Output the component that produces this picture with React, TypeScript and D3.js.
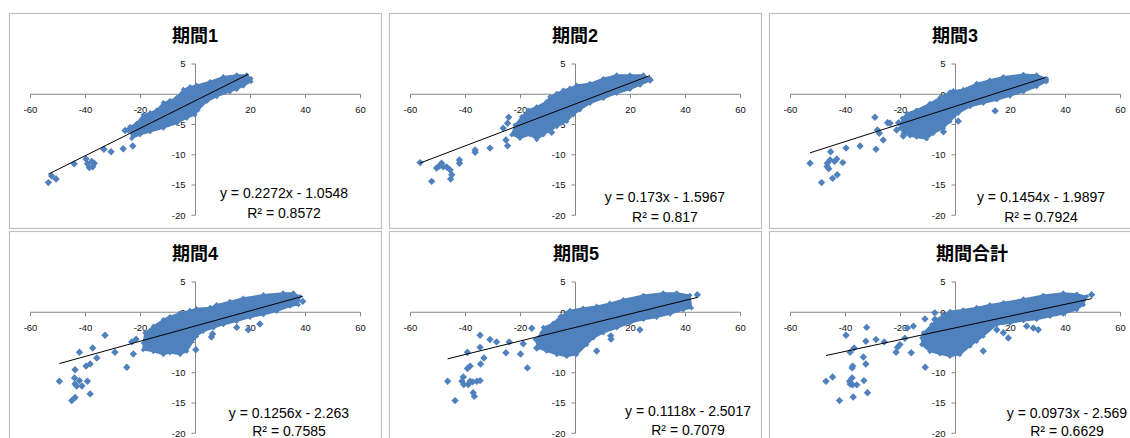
import React from 'react';
import * as d3 from 'd3';

type Pt = [number, number];

// Panel titles and fitted trend statistics
const titles = ['期間1', '期間2', '期間3', '期間4', '期間5', '期間合計'];
const slopes = [0.2272, 0.173, 0.1454, 0.1256, 0.1118, 0.0973];
const intercepts = [-1.0548, -1.5967, -1.9897, -2.263, -2.5017, -2.569];
const rSquared = ['0.8572', '0.817', '0.7924', '0.7585', '0.7079', '0.6629'];

const xTicks = [-60, -40, -20, 0, 20, 40, 60];
const yTicks = [5, 0, -5, -10, -15, -20];

// Outline of the dense cloud of observations in each period
const cloud1: Pt[] = [
  [-23.8, -5.35], [-21.4, -4.8], [-19, -3.4], [-16.5, -3.05], [-14.1, -2.6], [-11.7, -1.4], [-9.3, -1.05],
  [-6.8, -0.5], [-4.4, 0.8], [-2.0, 1.25], [0.4, 1.5], [5.3, 2.1], [10.1, 2.9], [15, 3.2], [18.6, 3.2], [20.2, 2.6],
  [20.2, 2.1], [17.4, 1.35], [15, 0.8], [12.5, 0.4], [7.7, -0.4], [4.1, -1.2], [1, -2.6], [-0.2, -3.4],
  [-3.2, -3.95], [-6.8, -4.8], [-11.7, -5.6], [-16.5, -6.2], [-20.2, -6.7], [-23.2, -7.3],
];
const cloud2: Pt[] = [
  [-22, -5.1], [-19.6, -3.7], [-17.2, -2.6], [-14.1, -2.05], [-10.5, -1.2], [-9.3, -0.4], [-6.8, 0.15],
  [-4.4, 0.7], [-2, 1.0], [0.4, 1.5], [5.3, 1.8], [10.1, 2.6], [15, 3.2], [19.8, 3.2], [24.7, 3.2], [27.1, 2.6],
  [27.1, 2.25], [23.5, 1.5], [19.8, 0.8], [15, 0.15], [10.1, -0.7], [5.3, -1.5], [1.6, -2.6], [-0.8, -3.4],
  [-3.2, -4.5], [-6.8, -5.35], [-11.7, -6.7], [-14.1, -7.5], [-16.5, -6.7], [-20.2, -7.3], [-23.2, -6.7],
];
const cloud3: Pt[] = [
  [-19.4, -4.0], [-17.7, -3.15], [-14.1, -2.6], [-9.3, -1.5], [-5.6, -0.5], [-2, 0.4], [-0.8, 0.6], [2.8, 0.8],
  [7.7, 1.8], [12.5, 2.35], [17.4, 2.9], [24.7, 3.3], [29.5, 3.2], [33.1, 2.6],
  [33.1, 2.1], [29.5, 1.25], [24.7, 0.4], [19.8, -0.3], [15, -0.95], [10.1, -1.5], [5.3, -2.05], [1, -3.15],
  [-2, -4.5], [-4.4, -5.6], [-8.1, -6.5], [-10.5, -7.4], [-14.1, -7.1], [-16.5, -6.9], [-19, -6.5], [-20.2, -5.6],
];
const cloud4: Pt[] = [
  [-19, -5.1], [-18.4, -3.4], [-15.3, -2.3], [-11.7, -1.2], [-9.3, -0.7], [-5.6, -0.1], [-2, 0.3], [0.4, 0.6],
  [5.3, 0.8], [7.7, 1.25], [12.5, 1.8], [17.4, 2.35], [24.7, 2.9], [31.9, 3.2], [35.6, 3.2], [38, 2.6],
  [37.4, 1.25], [34.4, 1.0], [29.5, 0.15], [24.7, -0.4], [19.8, -0.85], [15, -1.5], [10.1, -2.05], [6.5, -2.6],
  [2.8, -3.15], [0.4, -3.95], [-3.2, -6.45], [-5.6, -7.0], [-9.3, -6.7], [-11.7, -7.0], [-15.3, -6.5], [-19, -6.2],
];
const cloud5: Pt[] = [
  [-14.7, -4.5], [-12.3, -3.4], [-11.7, -2.5], [-8.1, -1.8], [-5.6, -0.7], [-3.2, -0.1], [-2, 0.3], [2.8, 0.7],
  [7.7, 1.0], [12.5, 1.5], [17.4, 2.1], [24.7, 2.8], [31.9, 3.2], [36.8, 3.2], [41.6, 2.8],
  [42.2, 0.7], [39.2, 0.4], [34.4, -0.3], [29.5, -0.85], [24.7, -1.2], [19.8, -1.8], [15, -2.6], [10.1, -3.4],
  [6.5, -4.25], [4.1, -5.35], [0.4, -7.0], [-3.2, -7.3], [-6.8, -7.0], [-10.5, -6.45], [-13.5, -5.9],
];
const cloud6: Pt[] = [
  [-12.3, -4.25], [-11.7, -3.4], [-8.7, -2.05], [-6.8, -1.2], [-4.4, -0.4], [-2, 0.15], [2.8, 0.4], [7.7, 0.8],
  [12.5, 1.25], [17.4, 1.6], [24.7, 2.2], [31.9, 2.8], [39.2, 3.2], [44.1, 3.0], [47.7, 2.6],
  [46.5, 1.25], [44.1, 0.4], [39.2, -0.3], [34.4, -0.7], [29.5, -1.2], [24.7, -1.4], [19.8, -1.8], [15, -2.05],
  [10.1, -3.95], [7.7, -4.8], [5.3, -5.6], [1.6, -7.0], [-2, -7.3], [-5.6, -6.9], [-9.3, -6.5], [-12.3, -5.35],
];

// Individual observations outside the dense cloud
const points1: Pt[] = [
  [-53.5, -14.6], [-52.3, -13.5], [-50.7, -14.0], [-44.1, -11.5], [-39.8, -10.7], [-39.3, -11.5], [-38.6, -12.1],
  [-37.4, -12.0], [-36.8, -11.4], [-37.7, -11.1], [-33.3, -9.1], [-30.7, -9.5], [-26.3, -9.0], [-22.8, -8.55],
  [-25.6, -6.0], [-24.4, -5.9], [19.2, 2.5],
];
const points2: Pt[] = [
  [-56.5, -11.3], [-52.3, -14.4], [-50.5, -12.2], [-49.5, -11.85], [-48.7, -11.4], [-48.1, -12.0], [-46.9, -12.0],
  [-45.0, -13.3], [-45.4, -14.0], [-45.6, -12.5], [-42.2, -10.85], [-42.2, -11.4], [-36.5, -9.2], [-36.5, -9.6],
  [-31.1, -8.9], [-26.3, -5.6], [-25.3, -7.55], [-24.7, -8.5], [-24.7, -4.8], [-24.3, -3.8], [-8.7, -6.3],
  [27.1, 2.36],
];
const points3: Pt[] = [
  [-52.9, -11.4], [-48.7, -14.6], [-46.6, -11.4], [-46.7, -11.95], [-46.1, -12.3], [-45.6, -10.85], [-45.4, -9.5],
  [-44.7, -13.9], [-44.0, -11.1], [-43.2, -10.7], [-43.0, -13.3], [-41.0, -11.3], [-39.8, -8.9], [-34.7, -8.55],
  [-29.3, -3.8], [-28.9, -9.1], [-28.4, -5.9], [-27.7, -6.45], [-26.3, -7.55], [-24.7, -4.7], [-23.8, -4.8],
  [-21.4, -5.9], [-20.7, -4.7], [-19.0, -6.9], [-4.4, -6.2], [1.0, -4.45], [14.4, -2.75], [32.7, 2.36],
];
const points4: Pt[] = [
  [-49.5, -11.4], [-45.0, -14.6], [-43.8, -14.1], [-43.8, -9.5], [-44.0, -10.85], [-43.8, -11.85], [-43.2, -12.2],
  [-42.2, -11.3], [-41.3, -12.2], [-42.2, -6.6], [-39.8, -8.9], [-39.3, -11.4], [-38.3, -8.55], [-38.3, -13.5],
  [-37.4, -5.9], [-35.9, -7.55], [-32.9, -3.8], [-29.3, -6.6], [-25.0, -9.1], [-23.2, -4.9], [-22.6, -6.9],
  [-21.6, -4.45], [0.1, -6.2], [5.8, -4.1], [6.2, -3.6], [15, -2.5], [19.2, -2.9], [23.4, -1.95], [39.0, 1.8],
];
const points5: Pt[] = [
  [-46.5, -11.4], [-43.8, -14.6], [-41.3, -11.4], [-40.8, -10.7], [-40.6, -11.95], [-39.3, -9.3], [-39.0, -11.95],
  [-39.3, -6.6], [-38.3, -8.9], [-38.3, -11.4], [-37.4, -11.5], [-37.2, -13.3], [-36.8, -13.9], [-35.9, -11.4],
  [-34.7, -3.8], [-34.7, -5.8], [-34.5, -8.55], [-34.7, -11.3], [-33.3, -7.55], [-31.1, -4.5], [-28.7, -4.9],
  [-25.3, -6.7], [-24.1, -4.9], [-20.0, -6.9], [-19.0, -5.2], [-17.5, -9.2], [-15.9, -2.65], [-14.1, -5.9],
  [7.7, -6.4], [12.8, -3.9], [12.9, -4.45], [23.4, -2.9], [44.3, 2.9],
];
const points6: Pt[] = [
  [-47.1, -11.4], [-44.7, -10.7], [-42.2, -14.6], [-39.8, -3.8], [-38.3, -6.6], [-38.5, -11.4], [-38.3, -11.85],
  [-37.6, -9.2], [-37.6, -10.85], [-37.4, -12.0], [-37.4, -8.9], [-36.9, -5.9], [-37.2, -14.0], [-35.9, -12.0],
  [-33.5, -7.4], [-33.3, -11.3], [-32.6, -8.55], [-32.3, -2.5], [-32.6, -4.8], [-32.0, -13.3], [-28.9, -4.5],
  [-25.9, -4.9], [-21.6, -6.6], [-21.1, -5.8], [-20.2, -5.35], [-18.4, -4.3], [-17.5, -2.6], [-16.1, -6.7],
  [-15.3, -2.3], [-11.1, -1.1], [-11.0, -9.1], [-7.5, -0.1], [-7.5, -1.2], [10.1, -6.4], [15, -2.9], [17.4, -3.4],
  [19.2, -4.25], [25.9, -2.3], [28.3, -2.6], [30.1, -2.9], [49.5, 2.9],
];

const clouds = [cloud1, cloud2, cloud3, cloud4, cloud5, cloud6];
const pointSets = [points1, points2, points3, points4, points5, points6];

// Layout
const W = 1130;
const H = 438;
const PANEL_W = 372;
const PANEL_H = 215;
const COL_STEP = 380;
const ROW_STEP = 218;
const ORIGIN_X = 9;
const ORIGIN_Y = 13;
const PLOT = { left: 21.5, right: 351.5, top: 51, bottom: 202.25 };
// Title centre x inside each panel
const titleX = [186, 186, 186, 186, 187, 203];
// Equation label placement inside each panel: [centerX, eqY, r2Y]
const labelPos: [number, number, number][] = [
  [275, 180.5, 200.5],
  [276, 184, 204],
  [272, 184, 204],
  [280, 182, 200.5],
  [299, 180, 199],
  [298, 182, 200.5],
];

const MARK = '#4F81BD';
const AXIS = '#868686';
const LATIN = "'Liberation Sans', Arial, sans-serif";
const CJK = "'Liberation Sans', 'Noto Sans CJK JP', sans-serif";

const x = d3.scaleLinear().domain([-60, 60]).range([PLOT.left, PLOT.right]);
const y = d3.scaleLinear().domain([5, -20]).range([PLOT.top, PLOT.bottom]);
const cloudPath = d3
  .line<Pt>()
  .x((d) => x(d[0]))
  .y((d) => y(d[1]))
  .curve(d3.curveLinearClosed);

const R = 3.7;
const diamond = `M0,${-R}L${R},0L0,${R}L${-R},0Z`;
const edgeR = 2.6;
const edgeDiamond = `M0,${-edgeR}L${edgeR},0L0,${edgeR}L${-edgeR},0Z`;

function fmtEq(m: number, b: number) {
  const sign = b < 0 ? '-' : '+';
  return `y = ${m}x ${sign} ${Math.abs(b)}`;
}

function Panel({ i }: { i: number }) {
  const col = i % 3;
  const row = Math.floor(i / 3);
  const tx = ORIGIN_X + col * COL_STEP;
  const ty = ORIGIN_Y + row * ROW_STEP;
  const pts = pointSets[i];
  const [xMin, xMax] = d3.extent(pts, (d) => d[0]) as [number, number];
  const m = slopes[i];
  const b = intercepts[i];
  const [lx, ey, ry] = labelPos[i];
  const x0 = x(0);
  const y0 = y(0);
  return (
    <g transform={`translate(${tx},${ty})`}>
      <rect x={0.5} y={0.5} width={PANEL_W} height={PANEL_H} fill="#fff" stroke="#BFBFBF" strokeWidth={1.2} />
      <text x={titleX[i]} y={29} textAnchor="middle" fontFamily={CJK} fontWeight="bold" fontSize={18} fill="#000">
        {titles[i]}
      </text>
      {/* axes crossing at the origin */}
      <line x1={x(-60)} x2={x(60)} y1={y0} y2={y0} stroke={AXIS} strokeWidth={1} />
      <line x1={x0} x2={x0} y1={y(5)} y2={y(-20)} stroke={AXIS} strokeWidth={1} />
      {xTicks.map((t) => (
        <g key={`xt${t}`}>
          <line x1={x(t)} x2={x(t)} y1={y0} y2={y0 + 4} stroke={AXIS} />
          <text x={x(t)} y={y0 + 19} textAnchor="middle" fontFamily={LATIN} fontSize={9.5} fill="#111">
            {t}
          </text>
        </g>
      ))}
      {yTicks.map((t) => (
        <g key={`yt${t}`}>
          <line x1={x0 - 4} x2={x0} y1={y(t)} y2={y(t)} stroke={AXIS} />
          <text x={x0 - 10} y={y(t) + 3.3} textAnchor="end" fontFamily={LATIN} fontSize={9.5} fill="#111">
            {t}
          </text>
        </g>
      ))}
      <path d={cloudPath(clouds[i]) || ''} fill={MARK} stroke={MARK} strokeWidth={1.5} strokeLinejoin="round" />
      {clouds[i].map((d, k) => (
        <path key={`c${k}`} d={edgeDiamond} transform={`translate(${x(d[0])},${y(d[1])})`} fill={MARK} />
      ))}
      {pts.map((d, k) => (
        <path key={k} d={diamond} transform={`translate(${x(d[0])},${y(d[1])})`} fill={MARK} />
      ))}
      <line
        x1={x(xMin)}
        y1={y(m * xMin + b)}
        x2={x(xMax)}
        y2={y(m * xMax + b)}
        stroke="#000"
        strokeWidth={1}
      />
      <text x={lx} y={ey} dy="0.35em" textAnchor="middle" fontFamily={LATIN} fontSize={14} fill="#000">
        {fmtEq(m, b)}
      </text>
      <text x={lx} y={ry} dy="0.35em" textAnchor="middle" fontFamily={LATIN} fontSize={14} fill="#000">
        {`R² = ${rSquared[i]}`}
      </text>
    </g>
  );
}

export default function App() {
  return (
    <svg
      width={W}
      height={H}
      viewBox={`0 0 ${W} ${H}`}
      style={{ position: 'absolute', left: 0, top: 0, background: '#fff' }}
    >
      <rect width={W} height={H} fill="#fff" />
      {titles.map((_, i) => (
        <Panel key={i} i={i} />
      ))}
    </svg>
  );
}
